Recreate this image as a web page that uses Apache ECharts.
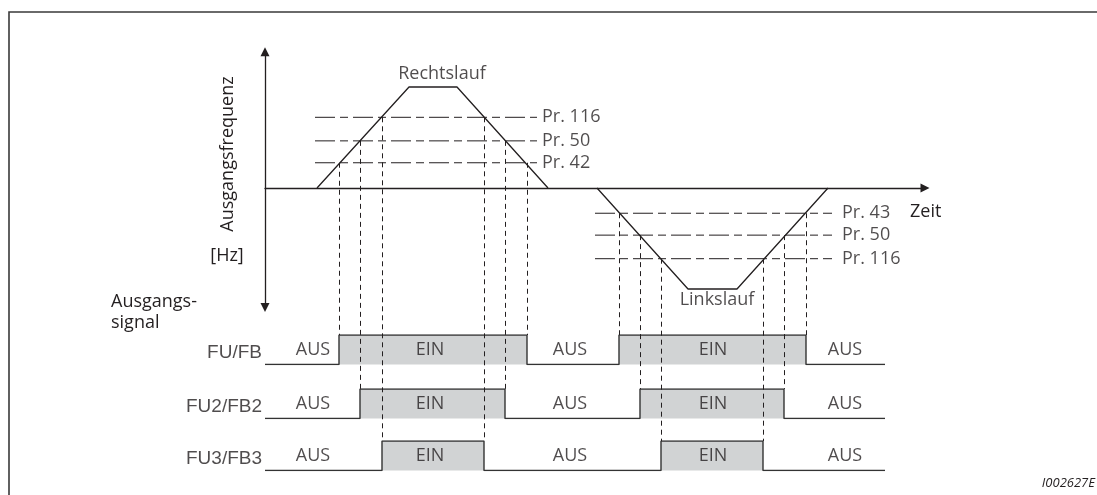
<!DOCTYPE html>
<html>
<head>
<meta charset="utf-8">
<script src="https://cdn.jsdelivr.net/npm/echarts@6/dist/echarts.min.js"></script>
<style>
html, body { margin: 0; padding: 0; background: #fff; }
#chart { width: 1097px; height: 495px; }
</style>
</head>
<body>
<div id="chart"></div>
<script>
// Zeit in willkuerlichen Einheiten, Frequenz in Hz
var rechtslauf = [[5.2, 0], [14.4, 60], [19.2, 60], [28.3, 0]];
var linkslauf = [[33.2, 0], [42.3, -60], [47.2, -60], [56.3, 0]];

// Schwellwerte (Pr.)
var schwellenNamenRechts = ['Pr. 42', 'Pr. 50', 'Pr. 116'];
var schwellenRechts = [15, 28, 42];
var schwellenNamenLinks = ['Pr. 43', 'Pr. 50', 'Pr. 116'];
var schwellenLinks = [-15, -28, -42];
var bereichRechts = [5.0, 27.2];
var bereichLinks = [33.0, 56.7];

// Ausgangssignale: Schaltflanken (EIN, AUS, EIN, AUS)
var signalNamen = ['FU/FB', 'FU2/FB2', 'FU3/FB3'];
var signalFlanken = [
    [7.4, 26.2, 35.4, 54.1],
    [9.5, 24.0, 37.5, 51.9],
    [11.7, 21.9, 39.6, 49.8]
];
var signalEnde = 62;
var zustandText = ['AUS', 'EIN', 'AUS', 'EIN', 'AUS'];
var zustandZeit = [4.8, 16.5, 30.5, 44.8, 58];

var richtungen = [
    { name: 'Rechtslauf', value: [17.7, 68] },
    { name: 'Linkslauf', value: [45.2, -66.5] }
];

var farbe = '#231f20';
var fuellung = '#d1d3d4';
var schrift = 'Open Sans';
var zeitMax = 66;
var fMin = -71, fMax = 81;
var pxProHz = 1.6833;
var signalOben = [335, 389, 441];

var chart = echarts.init(document.getElementById('chart'));

function signalDaten(flanken) {
    var d = [[0, 0]];
    flanken.forEach(function (t, i) {
        d.push([t, i % 2 === 0 ? 1 : 0]);
    });
    d.push([signalEnde, 0]);
    return d;
}

var grids = [{ left: 265, width: 660, top: 188 - fMax * pxProHz, height: (fMax - fMin) * pxProHz }];
var xAxes = [{
    type: 'value', gridIndex: 0, min: 0, max: zeitMax,
    axisLine: { show: true, onZero: true, symbol: ['none', 'triangle'], symbolSize: [9, 9], lineStyle: { color: farbe, width: 1.3 } },
    axisTick: { show: false }, axisLabel: { show: false }, splitLine: { show: false }
}];
var yAxes = [{
    type: 'value', gridIndex: 0, min: fMin, max: fMax,
    axisLine: { show: true, onZero: true, symbol: ['triangle', 'triangle'], symbolSize: [9, 9], lineStyle: { color: farbe, width: 1.3 } },
    axisTick: { show: false }, axisLabel: { show: false }, splitLine: { show: false }
}];

var series = [];

// Frequenzverlauf
[rechtslauf, linkslauf].forEach(function (d) {
    series.push({
        type: 'line', xAxisIndex: 0, yAxisIndex: 0, data: d, symbol: 'none',
        lineStyle: { color: farbe, width: 1.3 }, z: 3
    });
});

// Schwellwertlinien
function schwellen(werte, namen, bereich, abstand) {
    werte.forEach(function (f) {
        series.push({
            type: 'line', xAxisIndex: 0, yAxisIndex: 0, symbol: 'none',
            data: [[bereich[0], f], [bereich[1], f]],
            lineStyle: { color: farbe, width: 1, type: [20, 5, 8, 5] }, z: 2
        });
    });
    series.push({
        type: 'scatter', xAxisIndex: 0, yAxisIndex: 0, symbolSize: 0, clip: false,
        itemStyle: { color: 'transparent' },
        data: werte.map(function (f, i) { return { name: namen[i], value: [bereich[1], f] }; }),
        label: { show: true, position: 'right', distance: abstand, formatter: '{b}', color: farbe, fontSize: 18, fontFamily: schrift }
    });
}
schwellen(schwellenRechts, schwellenNamenRechts, bereichRechts, 5);
schwellen(schwellenLinks, schwellenNamenLinks, bereichLinks, 10);

series.push({
    type: 'scatter', xAxisIndex: 0, yAxisIndex: 0, symbolSize: 0, clip: false,
    itemStyle: { color: 'transparent' }, data: richtungen,
    label: { show: true, position: 'inside', formatter: '{b}', color: farbe, fontSize: 18, fontFamily: schrift }
});

// Ausgangssignale
signalNamen.forEach(function (name, r) {
    var g = r + 1;
    grids.push({ left: 265, width: 660, top: signalOben[r], height: 29.5 });
    xAxes.push({ type: 'value', gridIndex: g, min: 0, max: zeitMax, show: false });
    yAxes.push({ type: 'value', gridIndex: g, min: 0, max: 1, show: false });
    series.push({
        type: 'line', xAxisIndex: g, yAxisIndex: g, data: signalDaten(signalFlanken[r]),
        step: 'end', symbol: 'none',
        lineStyle: { color: '#333', width: 1.4 },
        areaStyle: { color: fuellung, opacity: 1 }, z: 1
    });
    series.push({
        type: 'scatter', xAxisIndex: g, yAxisIndex: g, symbolSize: 0, clip: false,
        itemStyle: { color: 'transparent' },
        data: zustandZeit.map(function (t, j) { return { name: zustandText[j], value: [t, 0.5] }; }),
        label: { show: true, position: 'inside', formatter: '{b}', color: farbe, fontSize: 18, fontFamily: schrift }, z: 4
    });
    series.push({
        type: 'scatter', xAxisIndex: g, yAxisIndex: g, symbolSize: 0, clip: false,
        itemStyle: { color: 'transparent' },
        data: [{ name: name, value: [0, 0] }],
        label: { show: true, position: 'left', distance: 3, offset: [0, -12], formatter: '{b}', color: farbe, fontSize: 19, fontFamily: 'Liberation Sans' }
    });
});

var option = {
    animation: false,
    textStyle: { fontFamily: schrift },
    grid: grids,
    xAxis: xAxes,
    yAxis: yAxes,
    series: series,
    graphic: [
        { type: 'polyline', shape: { points: [[9, 495], [9, 12], [1097, 12]] }, style: { stroke: '#3a3a3a', lineWidth: 1.6, fill: null } },
        { type: 'text', x: 228, y: 154, rotation: Math.PI / 2, style: { text: 'Ausgangsfrequenz', fill: farbe, font: '18px "Open Sans"', align: 'center', verticalAlign: 'middle', textAlign: 'center', textVerticalAlign: 'middle' } },
        { type: 'text', x: 227, y: 256, style: { text: '[Hz]', fill: farbe, font: '18px "Open Sans"', align: 'center', verticalAlign: 'middle', textAlign: 'center', textVerticalAlign: 'middle' } },
        { type: 'text', x: 111, y: 302, style: { text: 'Ausgangs-', fill: farbe, font: '18px "Open Sans"', align: 'left', verticalAlign: 'middle', textAlign: 'left', textVerticalAlign: 'middle' } },
        { type: 'text', x: 111, y: 323, style: { text: 'signal', fill: farbe, font: '18px "Open Sans"', align: 'left', verticalAlign: 'middle', textAlign: 'left', textVerticalAlign: 'middle' } },
        { type: 'text', x: 910, y: 212, style: { text: 'Zeit', fill: farbe, font: '18px "Open Sans"', align: 'left', verticalAlign: 'middle', textAlign: 'left', textVerticalAlign: 'middle' } },
        { type: 'text', x: 1095, y: 483, style: { text: 'I002627E', fill: farbe, font: 'italic 13px "Open Sans"', align: 'right', verticalAlign: 'middle', textAlign: 'right', textVerticalAlign: 'middle' } }
    ]
};
chart.setOption(option);

// gestrichelte Projektionslinien vom Frequenzverlauf zu den Signalflanken
var projektionen = [];
signalFlanken.forEach(function (flanken, r) {
    flanken.forEach(function (t, i) {
        projektionen.push([t, i < 2 ? schwellenRechts[r] : schwellenLinks[r], r]);
    });
});
var zeilenOben = signalNamen.map(function (n, r) {
    return chart.convertToPixel({ gridIndex: r + 1 }, [0, 1])[1];
});
series.push({
    type: 'custom', xAxisIndex: 0, yAxisIndex: 0, data: projektionen, z: 5,
    renderItem: function (params, api) {
        var p = api.coord([api.value(0), api.value(1)]);
        var x = Math.round(p[0]) + 0.5;
        return {
            type: 'line',
            shape: { x1: x, y1: p[1], x2: x, y2: zeilenOben[api.value(2)] },
            style: { stroke: farbe, lineWidth: 1, lineDash: [5, 4] }
        };
    }
});
chart.setOption({ series: series });
</script>
</body>
</html>
